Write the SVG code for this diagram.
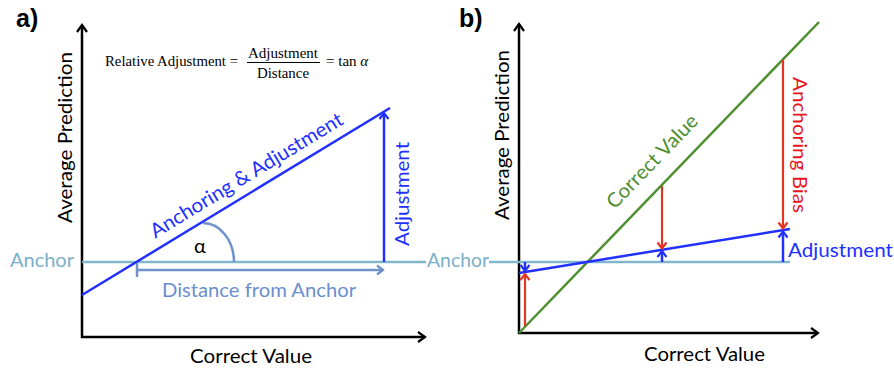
<svg xmlns="http://www.w3.org/2000/svg" width="894" height="368" viewBox="0 0 894 368">
<defs>
<style>
.ax{stroke:#000;stroke-width:2.5;fill:none}
.anc{stroke:#82b6cc;stroke-width:2.5;fill:none}
.blu{stroke:#2230ff;stroke-width:2.5;fill:none}
.stl{stroke:#7092cc;stroke-width:2.5;fill:none}
.grn{stroke:#4f8f2f;stroke-width:2.5;fill:none}
.red{stroke:#e5341f;stroke-width:2.2;fill:none}
.t{font-family:Lato,"Open Sans","Liberation Sans",sans-serif;font-size:20px}
.f{font-family:"Liberation Serif","Times New Roman",serif;font-size:15px;fill:#000}
.lbl{font-family:"Liberation Sans",Arial,sans-serif;font-weight:bold;font-size:25px;fill:#000}
</style>
<marker id="mk" viewBox="-9 -7 11 14" markerWidth="11" markerHeight="14" refX="0" refY="0" orient="auto" markerUnits="userSpaceOnUse" overflow="visible"><path d="M-7,-5 L0,0 L-7,5" fill="none" stroke="#000" stroke-width="2.2"/></marker>
<marker id="mb" viewBox="-9 -7 11 14" markerWidth="11" markerHeight="14" refX="0" refY="0" orient="auto" markerUnits="userSpaceOnUse" overflow="visible"><path d="M-6,-4.5 L0,0 L-6,4.5" fill="none" stroke="#2230ff" stroke-width="2.2"/></marker>
<marker id="ms" viewBox="-9 -7 11 14" markerWidth="11" markerHeight="14" refX="0" refY="0" orient="auto" markerUnits="userSpaceOnUse" overflow="visible"><path d="M-6,-4.5 L0,0 L-6,4.5" fill="none" stroke="#7092cc" stroke-width="2.2"/></marker>
<marker id="mr" viewBox="-9 -7 11 14" markerWidth="11" markerHeight="14" refX="0" refY="0" orient="auto" markerUnits="userSpaceOnUse" overflow="visible"><path d="M-6,-4.5 L0,0 L-6,4.5" fill="none" stroke="#e5341f" stroke-width="2.2"/></marker>
</defs>
<rect width="894" height="368" fill="#fff"/>

<g id="panel-a">
  <text class="lbl" x="16" y="27">a)</text>
  <g id="formula">
    <text class="f" x="105" y="66" textLength="133" lengthAdjust="spacingAndGlyphs">Relative Adjustment =</text>
    <text class="f" x="283" y="58" text-anchor="middle" textLength="70" lengthAdjust="spacingAndGlyphs">Adjustment</text>
    <line x1="247" y1="62.5" x2="320" y2="62.5" stroke="#000" stroke-width="1"/>
    <text class="f" x="283" y="78" text-anchor="middle" textLength="52" lengthAdjust="spacingAndGlyphs">Distance</text>
    <text class="f" x="326" y="66">= tan <tspan font-style="italic">α</tspan></text>
  </g>
  <g id="a-axes">
    <line class="ax" x1="82" y1="338" x2="82" y2="25" marker-end="url(#mk)"/>
    <line class="ax" x1="81" y1="337" x2="425" y2="337" marker-end="url(#mk)"/>
    <text class="t" transform="translate(72,137.5) rotate(-90)" text-anchor="middle" textLength="171" lengthAdjust="spacingAndGlyphs">Average Prediction</text>
    <text class="t" x="251" y="363" text-anchor="middle" textLength="122" lengthAdjust="spacingAndGlyphs">Correct Value</text>
  </g>
  <g id="a-anchor">
    <text class="t" x="10" y="267" fill="#7ab0c8" textLength="64" lengthAdjust="spacingAndGlyphs">Anchor</text>
    <line class="anc" x1="82" y1="262" x2="426" y2="262"/>
  </g>
  <g id="a-line">
    <line class="blu" x1="82" y1="295" x2="390" y2="108"/>
    <text class="t" fill="#2230ff" transform="translate(250,181) rotate(-31.3)" text-anchor="middle" textLength="222" lengthAdjust="spacingAndGlyphs">Anchoring &amp; Adjustment</text>
  </g>
  <g id="a-angle">
    <path class="stl" d="M203,223 A31,39 0 0 1 234,262"/>
    <text class="t" x="200" y="253" text-anchor="middle" fill="#000">α</text>
  </g>
  <g id="a-adjust">
    <line class="blu" x1="384" y1="262" x2="384" y2="113" marker-end="url(#mb)"/>
    <text class="t" fill="#2230ff" transform="translate(409,194) rotate(-90)" text-anchor="middle" textLength="104" lengthAdjust="spacingAndGlyphs">Adjustment</text>
  </g>
  <g id="a-distance">
    <line class="stl" x1="137" y1="263" x2="137" y2="277"/>
    <line class="stl" x1="137" y1="270" x2="383" y2="270" marker-end="url(#ms)"/>
    <text class="t" x="259" y="297" text-anchor="middle" fill="#6a8fd0" textLength="194" lengthAdjust="spacingAndGlyphs">Distance from Anchor</text>
  </g>
</g>

<g id="panel-b">
  <text class="lbl" x="459" y="27">b)</text>
  <g id="b-axes">
    <line class="ax" x1="519" y1="334" x2="519" y2="24" marker-end="url(#mk)"/>
    <line class="ax" x1="518" y1="333" x2="818" y2="333" marker-end="url(#mk)"/>
    <text class="t" transform="translate(509,135) rotate(-90)" text-anchor="middle" textLength="170" lengthAdjust="spacingAndGlyphs">Average Prediction</text>
    <text class="t" x="704.5" y="361" text-anchor="middle" textLength="121" lengthAdjust="spacingAndGlyphs">Correct Value</text>
  </g>
  <g id="b-anchor">
    <text class="t" x="427" y="267" fill="#7ab0c8" textLength="62" lengthAdjust="spacingAndGlyphs">Anchor</text>
    <line class="anc" x1="489" y1="262" x2="790" y2="262"/>
  </g>
  <g id="b-correct">
    <line class="grn" x1="519" y1="333" x2="819" y2="22"/>
    <text class="t" fill="#4f8f2f" transform="translate(657,166) rotate(-46)" text-anchor="middle" textLength="122" lengthAdjust="spacingAndGlyphs">Correct Value</text>
  </g>
  <g id="b-line">
    <line class="blu" x1="519" y1="273" x2="790" y2="229"/>
  </g>
  <g id="b-arrows">
    <line class="red" x1="525" y1="326" x2="525" y2="274" marker-end="url(#mr)"/>
    <line class="red" x1="662" y1="186" x2="662" y2="248.5" marker-end="url(#mr)"/>
    <line class="red" x1="783" y1="60" x2="783" y2="228.5" marker-end="url(#mr)"/>
    <line class="blu" x1="525" y1="262" x2="525" y2="271" marker-end="url(#mb)"/>
    <line class="blu" x1="662" y1="262" x2="662" y2="251" marker-end="url(#mb)"/>
    <line class="blu" x1="783" y1="262" x2="783" y2="231.5" marker-end="url(#mb)"/>
  </g>
  <g id="b-labels">
    <text class="t" fill="#e8141e" transform="translate(793,145) rotate(90)" text-anchor="middle" textLength="136" lengthAdjust="spacingAndGlyphs">Anchoring Bias</text>
    <text class="t" x="788" y="257" fill="#2230ff" textLength="105" lengthAdjust="spacingAndGlyphs">Adjustment</text>
  </g>
</g>
</svg>
